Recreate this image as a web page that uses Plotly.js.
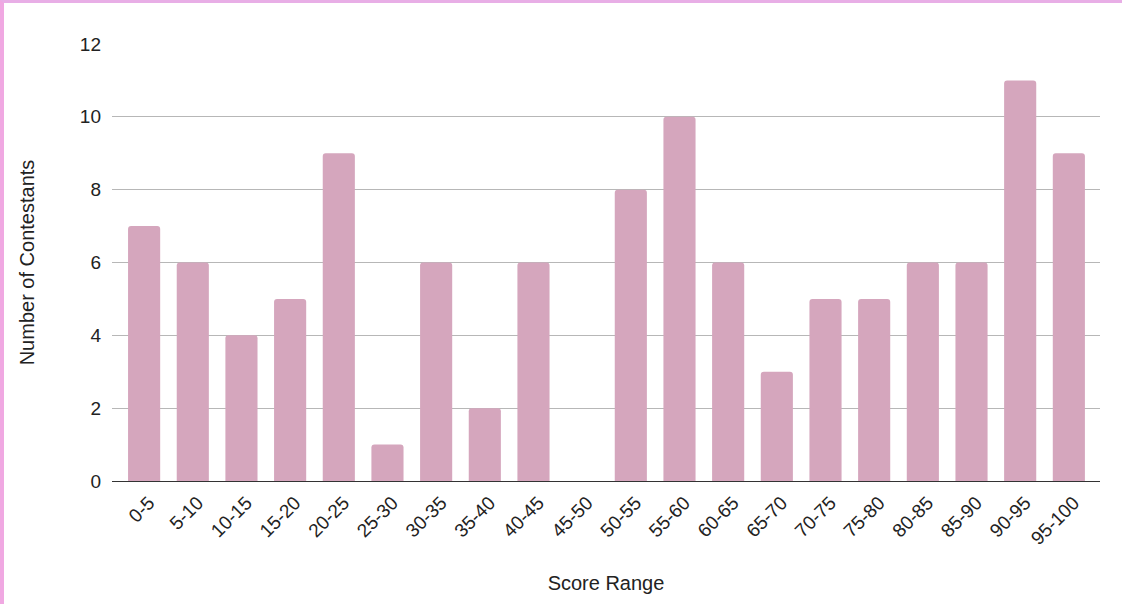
<!DOCTYPE html>
<html><head><meta charset="utf-8">
<script src="https://cdn.plot.ly/plotly-3.0.1.min.js"></script>
<style>
html,body{margin:0;padding:0;background:#fff;}
#wrap{width:1118px;height:601px;border-top:3px solid #e8aee6;border-left:4px solid #f0a8e2;}
#chart{width:1118px;height:601px;}
</style></head>
<body><div id="wrap"><div id="chart"></div></div>
<script>
const categories = ["0-5","5-10","10-15","15-20","20-25","25-30","30-35","35-40","40-45","45-50","50-55","55-60","60-65","65-70","70-75","75-80","80-85","85-90","90-95","95-100"];
const contestants = [7,6,4,5,9,1,6,2,6,0,8,10,6,3,5,5,6,6,11,9];
const yTicks = [0,2,4,6,8,10,12];

Plotly.newPlot('chart', [{
  type: 'bar',
  x: categories,
  y: contestants,
  marker: {color: '#d5a6bd', cornerradius: 3},
  hoverinfo: 'x+y'
}], {
  width: 1118, height: 601,
  margin: {l: 108, r: 22, t: 41, b: 123},
  paper_bgcolor: '#fff', plot_bgcolor: '#fff',
  bargap: 0.34,
  font: {family: 'Liberation Sans, Arial, sans-serif', color: '#222', size: 19},
  xaxis: {
    type: 'category',
    range: [-0.66, 19.64],
    tickangle: -45,
    tickfont: {size: 19, color: '#222'},
    ticklabelstandoff: 6, ticklabelshift: 5,
    title: {text: 'Score Range', font: {size: 20, color: '#222'}, standoff: 28},
    showgrid: false, zeroline: false, showline: false, ticks: ''
  },
  yaxis: {
    range: [0, 12], tickvals: yTicks, ticktext: yTicks.map(String),
    tickfont: {size: 19, color: '#222'},
    gridcolor: '#b7b7b7', gridwidth: 1,
    zeroline: true, zerolinecolor: '#333', zerolinewidth: 1,
    ticks: '', ticklen: 0, ticklabelstandoff: 10,
    title: {text: 'Number of Contestants', font: {size: 20, color: '#222'}, standoff: 39}
  },
  showlegend: false
}, {displayModeBar: false, staticPlot: true});
</script></body></html>
